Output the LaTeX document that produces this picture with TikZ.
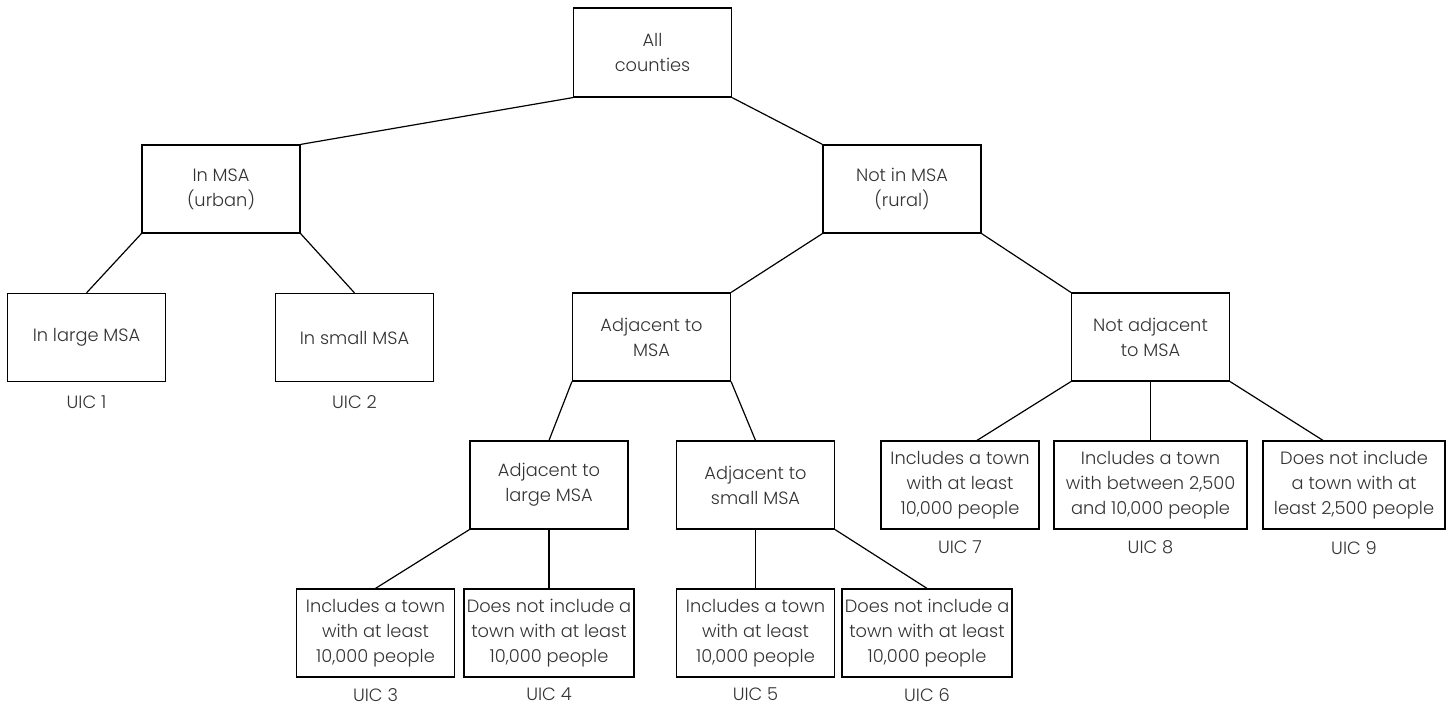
\documentclass[tikz,border=0pt]{standalone}
\usepackage{fontspec}
\setmainfont{Poppins Light}
\usepackage{tikz}
\usetikzlibrary{positioning}
\definecolor{uictext}{HTML}{333333}
\newcommand{\uicfont}{\fontsize{8.9}{12.5}\selectfont}
\tikzset{
  uicbox/.style={draw, line width=0.6pt, minimum width=79pt, minimum height=44pt,
    align=center, inner xsep=0.5pt, font=\uicfont, text=uictext},
  uiclabel/.style={inner sep=0pt, font=\uicfont, text=uictext},
  branch/.style={line width=0.6pt}
}

\begin{document}
\begin{tikzpicture}[x=0.5pt, y=-0.5pt]
\useasboundingbox (0,0) rectangle (1455,706);
% top levels
\node[uicbox, minimum height=44.5pt] (all) at (652.5,52.5) {All\\counties};
\node[uicbox] (urban) at (221,189) {In MSA\\(urban)};
\node[uicbox] (rural) at (902,189) {Not in MSA\\(rural)};
\node[uicbox] (large) at (86.5,337.5) {In large MSA};
\node[uicbox] (small) at (354.5,337.5) {In small MSA};
\node[uicbox] (adj) at (651.5,337) {Adjacent to\\MSA};
\node[uicbox] (notadj) at (1150.5,337) {Not adjacent\\to MSA};
\node[uicbox] (adjlarge) at (549,485) {Adjacent to\\large MSA};
\node[uicbox] (adjsmall) at (755.5,485) {Adjacent to\\small MSA};
% leaves, not adjacent
\node[uicbox] (uic7) at (960,485) {Includes a town\\with at least\\10,000 people};
\node[uicbox, minimum width=96.5pt] (uic8) at (1150.5,485) {Includes a town\\with between 2,500\\and 10,000 people};
\node[uicbox, minimum width=91pt] (uic9) at (1354,485) {Does not include\\a town with at\\least 2,500 people};
% leaves, adjacent
\node[uicbox] (uic3) at (375.5,633) {Includes a town\\with at least\\10,000 people};
\node[uicbox, minimum width=85pt] (uic4) at (549,633) {Does not include a\\town with at least\\10,000 people};
\node[uicbox] (uic5) at (755.5,633) {Includes a town\\with at least\\10,000 people};
\node[uicbox, minimum width=85pt] (uic6) at (927,633) {Does not include a\\town with at least\\10,000 people};
% codes
\node[uiclabel, below=6.5pt of large] (code1) {UIC 1};
\node[uiclabel, below=6.5pt of small] (code2) {UIC 2};
\node[uiclabel, below=5pt of uic3] (code3) {UIC 3};
\node[uiclabel, below=5pt of uic4] (code4) {UIC 4};
\node[uiclabel, below=5pt of uic5] (code5) {UIC 5};
\node[uiclabel, below=5pt of uic6] (code6) {UIC 6};
\node[uiclabel, below=5.5pt of uic7] (code7) {UIC 7};
\node[uiclabel, below=5.5pt of uic8] (code8) {UIC 8};
\node[uiclabel, below=5.5pt of uic9] (code9) {UIC 9};
% branches
\draw[branch] (all.south west) -- (urban.north east);
\draw[branch] (all.south east) -- (rural.north west);
\draw[branch] (urban.south west) -- (large.north);
\draw[branch] (urban.south east) -- (small.north);
\draw[branch] (rural.south west) -- (adj.north east);
\draw[branch] (rural.south east) -- (notadj.north west);
\draw[branch] (adj.south west) -- (adjlarge.north);
\draw[branch] (adj.south east) -- (adjsmall.north);
\draw[branch] (notadj.south west) -- ([xshift=8.5pt]uic7.north);
\draw[branch] (notadj.south) -- (uic8.north);
\draw[branch] (notadj.south east) -- ([xshift=-15.5pt]uic9.north);
\draw[branch] (adjlarge.south west) -- (uic3.north);
\draw[branch] (adjlarge.south) -- (uic4.north);
\draw[branch] (adjsmall.south) -- (uic5.north);
\draw[branch] (adjsmall.south east) -- (uic6.north);
\end{tikzpicture}
\end{document}
